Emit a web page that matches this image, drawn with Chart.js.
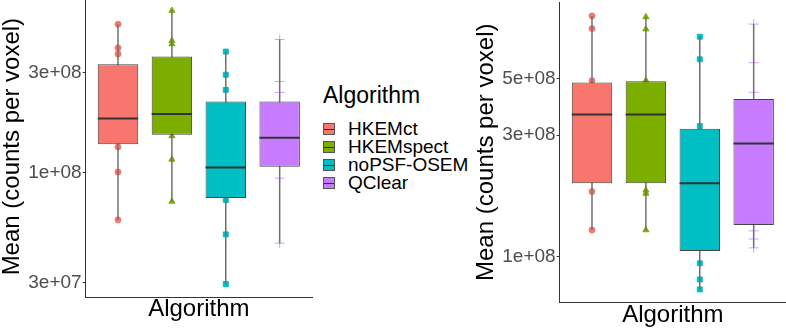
<!DOCTYPE html>
<html>
<head>
<meta charset="utf-8">
<script src="https://cdn.jsdelivr.net/npm/chart.js@4.4.1/dist/chart.umd.min.js"></script>
<style>
  html, body { margin: 0; padding: 0; background: #fff; }
  body { width: 786px; height: 329px; position: relative; overflow: hidden;
         font-family: 'Liberation Sans', Arial, sans-serif; }
  .panel { position: absolute; }
  #left-box { left: 0; top: -10px; width: 318px; height: 339px; }
  #right-box { left: 474px; top: -4px; width: 318px; height: 333px; }
  #legend { position: absolute; left: 323px; top: 84px; color: #000; }
  #legend .title { position: absolute; left: 0; top: 0; font-size: 23px; line-height: 23px; white-space: nowrap; }
  #legend .row { position: absolute; left: 0; height: 18px; line-height: 18px; font-size: 19px; white-space: nowrap; }
  #legend .key { position: absolute; left: 0; top: 3px; width: 12px; height: 12px; box-sizing: border-box;
                 border: 1px solid #555; }
  #legend .key::after { content: ''; position: absolute; left: 0; right: 0; top: 4.5px; height: 1px; background: #333; }
  #legend .label { position: absolute; left: 25px; top: 0; }
</style>
</head>
<body>
<div class="panel" id="left-box"><canvas id="left-chart"></canvas></div>
<div class="panel" id="right-box"><canvas id="right-chart"></canvas></div>
<div id="legend"><div class="title">Algorithm</div></div>
<script>
// groups on the x axis
const algorithms = ['HKEMct', 'HKEMspect', 'noPSF-OSEM', 'QClear'];

// left panel: box stats + the visible per-subject points
const leftQ1 = [1.37e8, 1.52e8, 7.59e7, 1.07e8];
const leftMedian = [1.82e8, 1.91e8, 1.06e8, 1.47e8];
const leftQ3 = [3.30e8, 3.59e8, 2.19e8, 2.19e8];
const leftLow = [5.97e7, 7.31e7, 2.95e7, 4.62e7];
const leftHigh = [5.12e8, 5.95e8, 3.79e8, 4.33e8];
const leftPoints = [
    [5.12e8, 3.95e8, 3.69e8, 1.33e8, 1.01e8, 5.97e7],
    [5.95e8, 4.27e8, 4.12e8, 1.50e8, 1.16e8, 7.31e7],
    [3.79e8, 2.94e8, 2.49e8, 7.43e7, 5.09e7, 2.95e7],
    [4.33e8, 2.73e8, 2.42e8, 1.47e8, 9.44e7, 4.62e7]
];
const leftTicks = [3e7, 1e8, 3e8];
const leftTickLabels = ['3e+07', '1e+08', '3e+08'];

// right panel
const rightQ1 = [1.94e8, 1.94e8, 1.05e8, 1.33e8];
const rightMedian = [3.62e8, 3.62e8, 1.94e8, 2.78e8];
const rightQ3 = [4.84e8, 4.89e8, 3.18e8, 4.17e8];
const rightLow = [1.27e8, 1.27e8, 7.41e7, 1.08e8];
const rightHigh = [8.85e8, 8.77e8, 7.33e8, 8.22e8];
const rightPoints = [
    [8.85e8, 7.89e8, 4.92e8, 1.80e8, 1.27e8],
    [8.77e8, 7.85e8, 4.93e8, 1.82e8, 1.77e8, 1.27e8],
    [7.33e8, 5.97e8, 3.26e8, 9.39e7, 8.11e7, 7.41e7],
    [8.22e8, 5.79e8, 4.43e8, 1.26e8, 1.17e8, 1.08e8]
];
const rightTicks = [1e8, 3e8, 5e8];
const rightTickLabels = ['1e+08', '3e+08', '5e+08'];

// styles
const fills = ['#F8766D', '#7CAE00', '#00BFC4', '#C77CFF'];
const pointColors = ['#F8766D', '#7CAE00', '#00BFC4', 'rgba(199,124,255,0.75)'];
const pointStyles = ['circle', 'triangle', 'rect', 'cross'];
const pointSizes = [3, 3.5, 3.5, 5];

Chart.defaults.font.family = "'Liberation Sans', Arial, sans-serif";
Chart.defaults.color = '#000';

function buildDatasets(q1, med, q3, lo, hi, pts) {
    const whiskerData = [];
    const medianData = [];
    algorithms.forEach((a, i) => {
        whiskerData.push({ x: i + 1, y: lo[i] }, { x: i + 1, y: hi[i] }, { x: i + 1.5, y: null });
        medianData.push({ x: i + 0.625, y: med[i] }, { x: i + 1.375, y: med[i] }, { x: i + 1.5, y: null });
    });

    const datasets = [
        {
            type: 'line',
            label: 'median',
            data: medianData,
            borderColor: '#333',
            borderWidth: 2,
            pointRadius: 0,
            spanGaps: false,
            order: 0
        },
        {
            type: 'bar',
            label: 'box',
            data: algorithms.map((a, i) => ({ x: i + 1, y: [q1[i], q3[i]] })),
            backgroundColor: fills,
            borderColor: '#444',
            borderWidth: 1,
            borderSkipped: false,
            categoryPercentage: 0.75,
            barPercentage: 1,
            order: 1
        },
        {
            type: 'line',
            label: 'whisker',
            data: whiskerData,
            borderColor: '#707070',
            borderWidth: 1.5,
            pointRadius: 0,
            spanGaps: false,
            order: 2
        }
    ];

    pts.forEach((vals, i) => {
        datasets.push({
            type: 'scatter',
            label: algorithms[i],
            data: vals.map(v => ({ x: i + 1, y: v })),
            pointStyle: pointStyles[i],
            pointRadius: pointSizes[i],
            backgroundColor: pointColors[i],
            borderColor: pointColors[i],
            borderWidth: 1,
            order: 3
        });
    });
    return datasets;
}

function yScale(min, max, ticks, tickLabels) {
    return {
        type: 'logarithmic',
        min: min,
        max: max,
        afterBuildTicks: (scale) => {
            scale.ticks = ticks.map(v => ({ value: v }));
        },
        ticks: {
            autoSkip: false,
            color: '#4D4D4D',
            // tiny lineHeight so the top label does not push the plot area down
            font: { size: 19, lineHeight: 0.1 },
            padding: 1,
            callback: (value, index) => tickLabels[index]
        },
        grid: { drawOnChartArea: false, drawTicks: true, tickLength: 3, color: '#333' },
        border: { display: true, color: '#333', width: 1 },
        title: {
            display: true,
            text: 'Mean (counts per voxel)',
            color: '#000',
            font: { size: 24, lineHeight: 1 },
            padding: { top: 0, bottom: 3.3 }
        }
    };
}

function xScale(titlePad) {
    return {
        type: 'linear',
        min: 0.4,
        max: 4.6,
        offset: false,
        afterBuildTicks: (scale) => {
            scale.ticks = algorithms.map((a, i) => ({ value: i + 1 }));
        },
        ticks: { display: false },
        grid: { display: false, drawTicks: false },
        border: { display: true, color: '#333', width: 1 },
        title: {
            display: true,
            text: 'Algorithm',
            color: '#000',
            font: { size: 24, lineHeight: 1 },
            padding: titlePad
        }
    };
}

function makeChart(canvasId, datasets, x, y) {
    return new Chart(document.getElementById(canvasId), {
        type: 'bar',
        data: { datasets: datasets },
        options: {
            responsive: true,
            maintainAspectRatio: false,
            animation: false,
            devicePixelRatio: 1,
            layout: { padding: 0 },
            scales: { x: x, y: y },
            plugins: {
                tooltip: { enabled: false },
                legend: { display: false }
            }
        }
    });
}

const leftChart = makeChart('left-chart',
    buildDatasets(leftQ1, leftMedian, leftQ3, leftLow, leftHigh, leftPoints),
    xScale({ top: 0, bottom: 7.7 }),
    yScale(2.55e7, 6.98e8, leftTicks, leftTickLabels));

const rightChart = makeChart('right-chart',
    buildDatasets(rightQ1, rightMedian, rightQ3, rightLow, rightHigh, rightPoints),
    xScale({ top: 0.6, bottom: 1.9 }),
    yScale(6.58e7, 1.004e9, rightTicks, rightTickLabels));

// shared legend between the panels
const legend = document.getElementById('legend');
algorithms.forEach((a, i) => {
    const row = document.createElement('div');
    row.className = 'row';
    row.style.top = (36 + 18 * i) + 'px';
    const key = document.createElement('span');
    key.className = 'key';
    key.style.background = fills[i];
    const label = document.createElement('span');
    label.className = 'label';
    label.textContent = a;
    row.appendChild(key);
    row.appendChild(label);
    legend.appendChild(row);
});
</script>
</body>
</html>
